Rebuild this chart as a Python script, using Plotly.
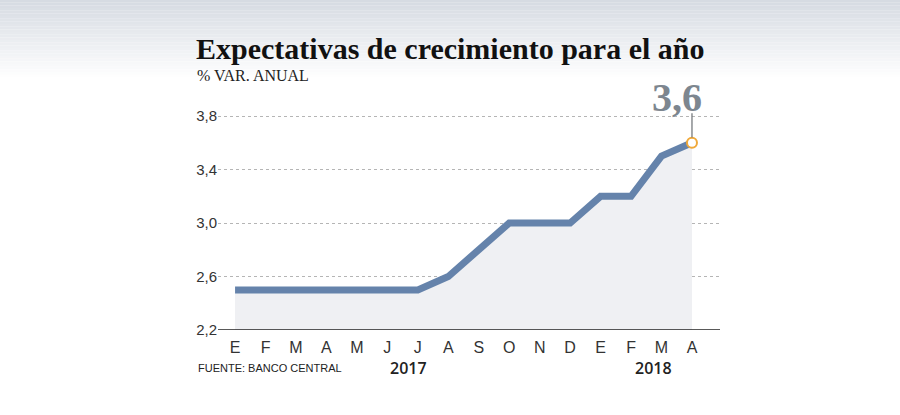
import plotly.graph_objects as go

months = ["E", "F", "M", "A", "M", "J", "J", "A", "S", "O", "N", "D", "E", "F", "M", "A"]
values = [2.5, 2.5, 2.5, 2.5, 2.5, 2.5, 2.5, 2.6, 2.8, 3.0, 3.0, 3.0, 3.2, 3.2, 3.5, 3.6]
ytick_vals = [2.2, 2.6, 3.0, 3.4, 3.8]
ytick_text = ["2,2", "2,6", "3,0", "3,4", "3,8"]
years = ["2017", "2018"]
year_pos = [5.7, 13.75]
last_label = "3,6"

x = list(range(len(months)))

L, R, T, B = 218, 180, 100, 85
PW, PH = 900 - L - R, 415 - T - B


def px(xp):
    return (xp - L) / PW


def py(yp):
    return (415 - B - yp) / PH


fig = go.Figure()
fig.add_trace(go.Scatter(x=x, y=values, mode="lines", fill="tozeroy",
                         fillcolor="#eff0f3", line=dict(color="rgba(0,0,0,0)", width=0),
                         hoverinfo="skip", showlegend=False))
fig.add_trace(go.Scatter(x=x, y=values, mode="lines",
                         line=dict(color="#6583ab", width=7),
                         showlegend=False))
fig.add_trace(go.Scatter(x=[x[-1]], y=[values[-1]], mode="markers",
                         marker=dict(size=10, color="white", line=dict(color="#f0a93a", width=2)),
                         showlegend=False))

# background gradient at top
shapes = []
n = 30
top_h = 80
for i in range(n):
    t = i / (n - 1)
    c0 = (214, 219, 226)
    c = tuple(round(c0[k] + (255 - c0[k]) * t) for k in range(3))
    shapes.append(dict(type="rect", xref="paper", yref="paper", x0=px(-5), x1=px(905),
                       y0=py((i + 1) * top_h / n), y1=py(i * top_h / n),
                       fillcolor="rgb(%d,%d,%d)" % c, line=dict(width=0), layer="below"))
# leader line from label to last point
shapes.append(dict(type="line", xref="x", yref="y", x0=x[-1], x1=x[-1],
                   y0=values[-1] + 0.04, y1=values[-1] + 0.22,
                   line=dict(color="#6b6f73", width=1.2)))

annotations = [
    dict(text="<b>Expectativas de crecimiento para el año</b>", xref="paper", yref="paper",
         x=px(194), y=py(49), xanchor="left", yanchor="middle",
         showarrow=False, font=dict(family="Liberation Serif", size=30, color="#111")),
    dict(text="% VAR. ANUAL", xref="paper", yref="paper",
         x=px(195), y=py(75), xanchor="left", yanchor="middle",
         showarrow=False, font=dict(family="Liberation Serif", size=16, color="#222")),
    dict(text="<b>" + last_label + "</b>", xref="paper", yref="paper",
         x=px(677), y=py(97), xanchor="center", yanchor="middle", showarrow=False,
         font=dict(family="Liberation Serif", size=40, color="#7d868f")),
    dict(text="FUENTE: BANCO CENTRAL", xref="paper", yref="paper",
         x=px(196), y=py(368), xanchor="left", yanchor="middle",
         showarrow=False, font=dict(family="Liberation Sans, sans-serif", size=11, color="#222")),
]
for yr, p in zip(years, year_pos):
    annotations.append(dict(text=yr, x=p, xref="x", yref="paper",
                            y=py(368), xanchor="center", yanchor="middle",
                            showarrow=False,
                            font=dict(family="Open Sans, sans-serif", size=16, color="#222", weight=600)))

fig.update_layout(
    width=900, height=415,
    margin=dict(l=L, r=R, t=T, b=B),
    paper_bgcolor="white", plot_bgcolor="white",
    shapes=shapes, annotations=annotations,
    xaxis=dict(range=[-0.56, 15.92], tickmode="array", tickvals=x, ticktext=months,
               showgrid=False, zeroline=False, showline=False, ticks="",
               ticklabelstandoff=6,
               tickfont=dict(family="Liberation Sans, sans-serif", size=16, color="#333"),
               fixedrange=True),
    yaxis=dict(range=[2.2, 3.92], tickmode="array", tickvals=ytick_vals, ticktext=ytick_text,
               showgrid=True, gridcolor="#b5b5b5", griddash="dot", gridwidth=1,
               zeroline=False, showline=False, ticks="",
               tickfont=dict(family="Liberation Sans, sans-serif", size=15, color="#333"),
               fixedrange=True),
)
# baseline axis line
fig.add_shape(type="line", xref="paper", yref="y", x0=0, x1=1, y0=2.2, y1=2.2,
              line=dict(color="#222", width=1.5))

fig.write_html("out.html")
